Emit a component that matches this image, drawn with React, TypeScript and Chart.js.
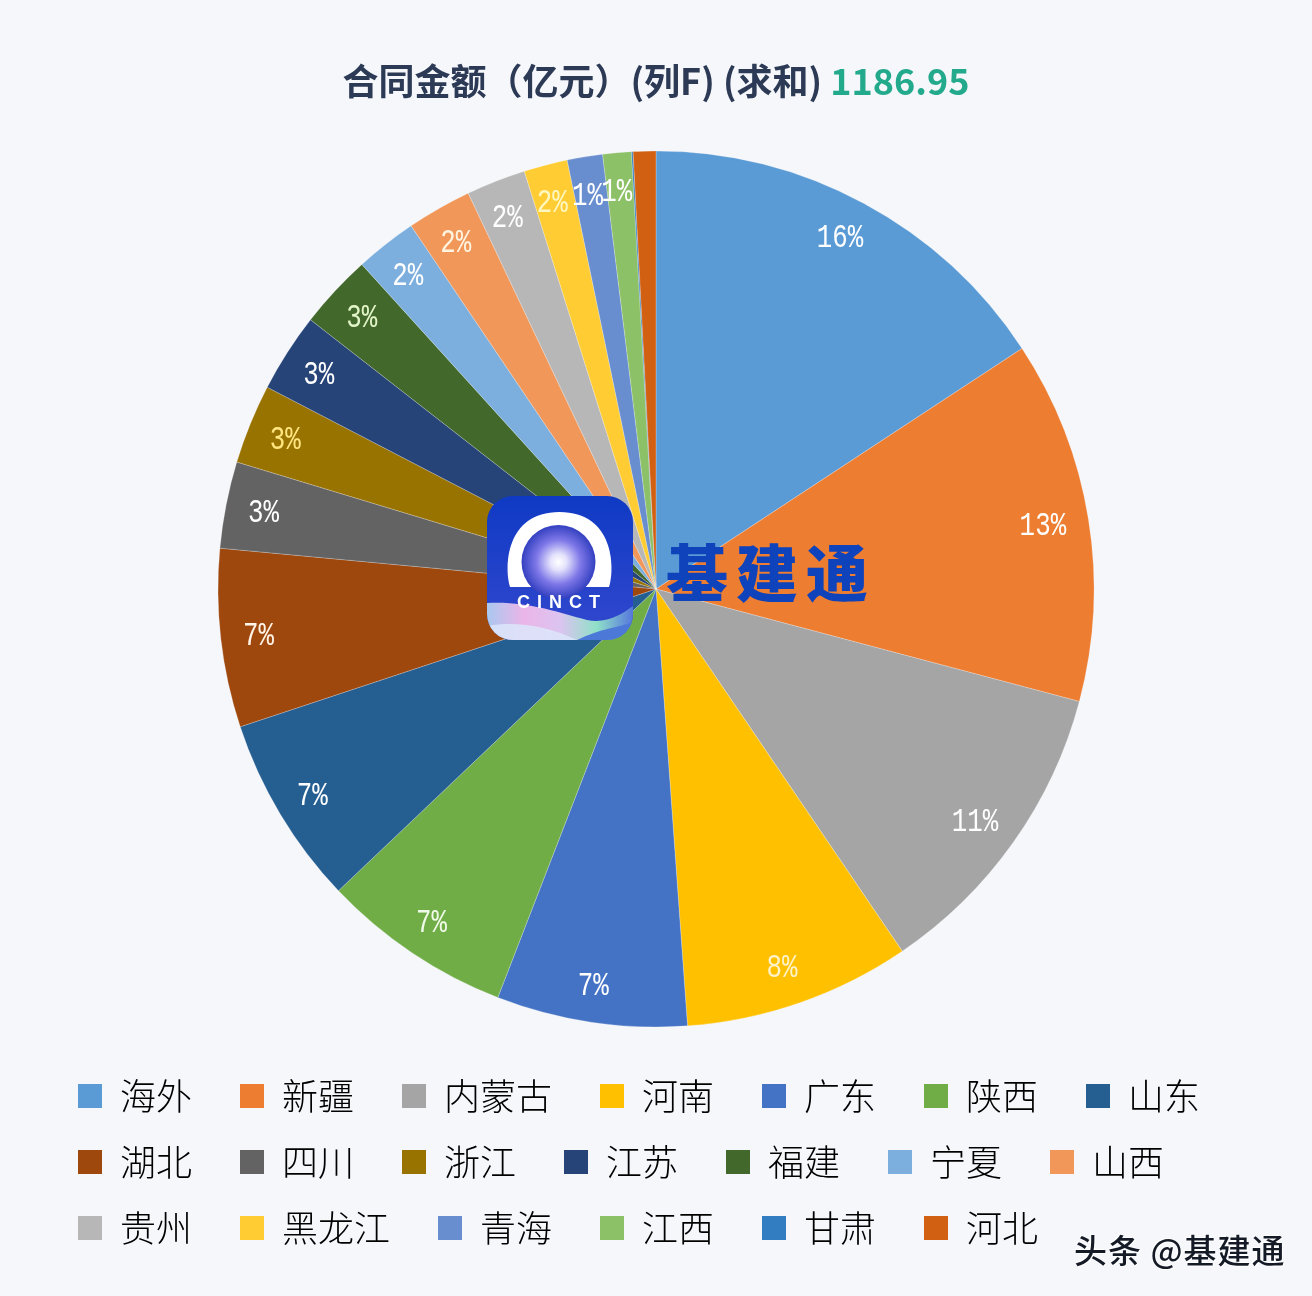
import React, { useEffect, useRef } from "react";
import { Chart, registerables } from "chart.js";

Chart.register(...registerables);

const categories = ["海外","新疆","内蒙古","河南","广东","陕西","山东","湖北","四川","浙江","江苏","福建","宁夏","山西","贵州","黑龙江","青海","江西","甘肃","河北"];
const amounts = [186.9,158.9,134.9,99.2,83.4,83.4,83.1,78.1,37.9,34.9,34.6,32.6,27.0,28.4,26.0,19.1,15.5,12.5,0.7,9.9];
const palette = ["#5B9BD5","#ED7D31","#A5A5A5","#FFC000","#4472C4","#70AD47","#255E91","#9E480E","#636363","#997300","#264478","#43682B","#7CAFDD","#F1975A","#B7B7B7","#FFCD33","#698ED0","#8CC168","#327DC2","#D26012"];
const labelColors = ["#FFFFFF","#FFFFFF","#FFFFFF","#FFF2C8","#FFFFFF","#F0FAE8","#FFFFFF","#FFF4E8","#FFFFFF","#FFE680","#FFFFFF","#E2F5C8","#FFFFFF","#FFF4E0","#FFFFFF","#FFF7C0","#FFFFFF","#FFFFFF","#FFFFFF","#FFFFFF"];
const titleMain = "合同金额（亿元）(列F) (求和) ";
const titleTotal = "1186.95";

const CJK = '"Noto Sans CJK SC", "Noto Sans", sans-serif';

const pieLabels = {
  id: "pieLabels",
  afterDatasetsDraw(chart: any) {
    const { ctx } = chart;
    const meta = chart.getDatasetMeta(0);
    const total = amounts.reduce((a, b) => a + b, 0);
    meta.data.forEach((arc: any, i: number) => {
      const pct = (amounts[i] / total) * 100;
      if (pct < 1) return;
      const { startAngle, endAngle, x, y } = arc.getProps(["startAngle", "endAngle", "x", "y"], true);
      const mid = (startAngle + endAngle) / 2;
      ctx.save();
      ctx.translate(x - 4 + Math.cos(mid) * 396, y + 1.5 + Math.sin(mid) * 400);
      ctx.scale(0.76, 1);
      ctx.font = '34px "Liberation Mono", monospace';
      ctx.fillStyle = labelColors[i];
      ctx.textAlign = "center";
      ctx.textBaseline = "middle";
      ctx.fillText(Math.round(pct) + "%", 0, 0);
      ctx.restore();
    });
  },
};

const twoToneTitle = {
  id: "twoToneTitle",
  afterDraw(chart: any) {
    const { ctx } = chart;
    ctx.save();
    ctx.font = `bold 36px ${CJK}`;
    ctx.textBaseline = "middle";
    ctx.textAlign = "left";
    const w1 = ctx.measureText(titleMain).width;
    const w2 = ctx.measureText(titleTotal).width;
    const x = 656 - (w1 + w2) / 2;
    ctx.fillStyle = "#2C3A55";
    ctx.fillText(titleMain, x, 81);
    ctx.fillStyle = "#23A98C";
    ctx.fillText(titleTotal, x + w1, 81);
    ctx.restore();
  },
};

function Logo() {
  return (
    <svg width={146} height={144} viewBox="0 0 146 144" style={{ position: "absolute", left: 487, top: 496 }}>
      <defs>
        <clipPath id="logoClip"><rect x="0" y="0" width="146" height="144" rx="26" /></clipPath>
        <linearGradient id="logoBg" x1="0" y1="0" x2="0" y2="1">
          <stop offset="0" stopColor="#0F3AC4" />
          <stop offset="1" stopColor="#3348CE" />
        </linearGradient>
        <radialGradient id="orb" cx="0.5" cy="0.5" r="0.5">
          <stop offset="0" stopColor="#FFFFFF" />
          <stop offset="0.22" stopColor="#E4E2FC" />
          <stop offset="0.6" stopColor="#7F78E8" />
          <stop offset="1" stopColor="#3340C0" />
        </radialGradient>
        <linearGradient id="wave1" x1="0" y1="0" x2="1" y2="0">
          <stop offset="0" stopColor="#A9C8F0" />
          <stop offset="0.25" stopColor="#EBB5E8" />
          <stop offset="0.5" stopColor="#DCC4F0" />
          <stop offset="0.75" stopColor="#90E0C8" />
          <stop offset="1" stopColor="#5577DD" />
        </linearGradient>
      </defs>
      <g clipPath="url(#logoClip)">
        <rect x="0" y="0" width="146" height="144" fill="url(#logoBg)" />
        <path d="M 23 91 C 17 72, 18 16, 72.5 16 C 127 16, 128 72, 122 91 Z" fill="#FFFFFF" />
        <circle cx="71.5" cy="66" r="37" fill="url(#orb)" />
        <path d="M0 107 C 40 105, 70 116, 100 124 C 120 128, 135 118, 146 110 L146 144 L0 144 Z" fill="url(#wave1)" />
        <path d="M0 130 C 30 125, 60 130, 90 144 L0 144 Z" fill="#DCE6FA" opacity="0.85" />
        <path d="M90 144 C 115 132, 130 132, 146 126 L146 144 Z" fill="#4C78D8" />
        <text x="75" y="112" textAnchor="middle" fontFamily='"Liberation Sans", sans-serif' fontWeight="700" fontSize="18" letterSpacing="7" fill="#FFFFFF">CINCT</text>
      </g>
    </svg>
  );
}

export default function App() {
  const ref = useRef<HTMLCanvasElement>(null);
  useEffect(() => {
    const chart = new Chart(ref.current as HTMLCanvasElement, {
      type: "pie",
      data: {
        labels: categories,
        datasets: [{ data: amounts, backgroundColor: palette, borderColor: "rgba(255,255,255,0.22)", borderWidth: 1 }],
      },
      options: {
        responsive: false,
        animation: false,
        radius: 438,
        layout: { padding: { top: 130, left: 48, right: 48, bottom: 40 } },
        plugins: {
          tooltip: { enabled: false },
          legend: {
            position: "bottom",
            align: "start",
            labels: {
              boxWidth: 24,
              boxHeight: 24,
              padding: 30,
              color: "#2C3A55",
              font: { family: CJK, size: 36, weight: "300" },
              generateLabels: (c: any) =>
                c.data.labels.map((t: string, i: number) => ({
                  text: t + "\u2002",
                  fillStyle: palette[i],
                  strokeStyle: palette[i],
                  lineWidth: 0,
                  hidden: false,
                  index: i,
                })),
            },
          },
        },
      } as any,
      plugins: [pieLabels, twoToneTitle],
    });
    return () => chart.destroy();
  }, []);

  return (
    <div style={{ position: "absolute", left: 0, top: 0, width: 1312, height: 1296, background: "#F5F7FB", overflow: "hidden" }}>
      <canvas ref={ref} width={1312} height={1296} style={{ display: "block", width: 1312, height: 1296 }} />
      <Logo />
      <div style={{ position: "absolute", left: 666, top: 528, fontFamily: CJK, fontWeight: 900, fontSize: 62, lineHeight: "84px", letterSpacing: 8, color: "#0F43BB", whiteSpace: "nowrap" }}>基建通</div>
      <div style={{ position: "absolute", left: 1074, top: 1226, fontFamily: CJK, fontWeight: 500, fontSize: 33, lineHeight: "46px", letterSpacing: 1, color: "#141A26", textShadow: "1px 1px 0 #fff, -1px -1px 0 #fff", whiteSpace: "nowrap" }}>头条 @基建通</div>
    </div>
  );
}
